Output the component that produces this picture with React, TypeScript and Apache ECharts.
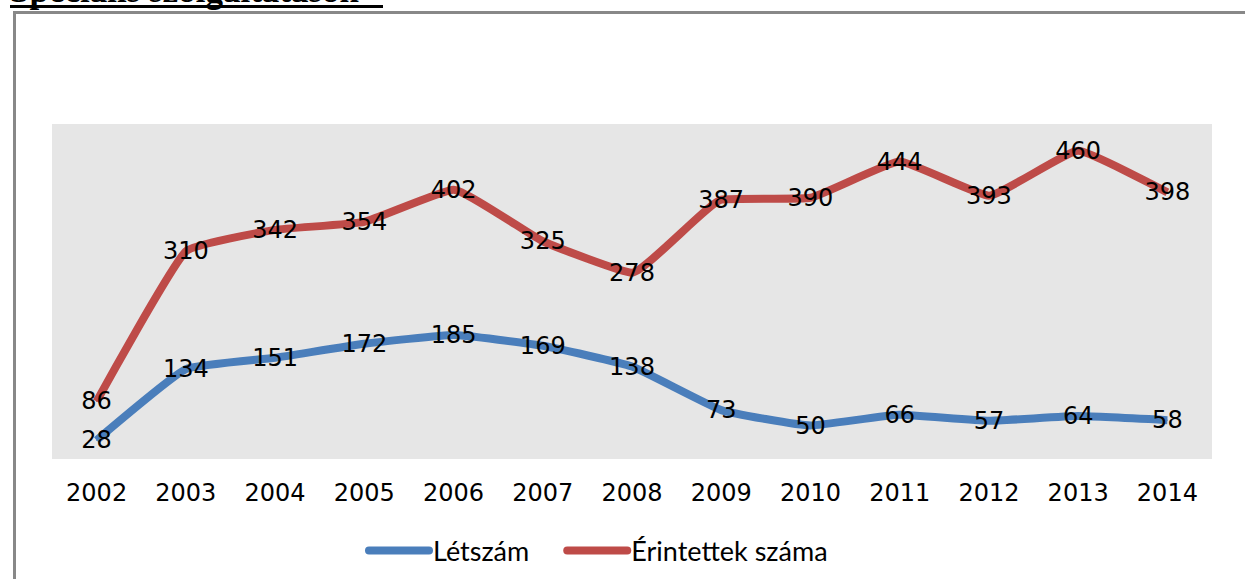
import React, { useEffect, useRef } from "react";
import * as echarts from "echarts";

const years = ["2002", "2003", "2004", "2005", "2006", "2007", "2008", "2009", "2010", "2011", "2012", "2013", "2014"];
const letszam = [28, 134, 151, 172, 185, 169, 138, 73, 50, 66, 57, 64, 58];
const erintettek = [86, 310, 342, 354, 402, 325, 278, 387, 390, 444, 393, 460, 398];
const seriesNames = ["Létszám", "Érintettek száma"];
const titleText = "Speciális szolgáltatáson";

export default function App() {
  const ref = useRef<HTMLDivElement>(null);
  useEffect(() => {
    document.body.style.margin = "0";
    const chart = echarts.init(ref.current!, null, { renderer: "svg" });
    const label = {
      show: true,
      position: "inside" as const,
      color: "#000",
      fontFamily: "DejaVu Sans",
      fontSize: 24,
    };
    chart.setOption({
      animation: false,
      backgroundColor: "#fff",
      graphic: [
        { type: "rect", shape: { x: 13, y: 11, width: 1240, height: 3 }, style: { fill: "#888" } },
        { type: "rect", shape: { x: 13, y: 11, width: 3, height: 580 }, style: { fill: "#888" } },
        {
          type: "text",
          x: 10,
          y: 8,
          style: {
            text: titleText,
            font: "bold 35px 'Liberation Serif'",
            fill: "#000",
            textVerticalAlign: "bottom",
          },
        },
        { type: "rect", shape: { x: 10, y: 5, width: 373, height: 3 }, style: { fill: "#000" } },
      ],
      grid: {
        left: 52,
        right: 33,
        top: 124,
        bottom: 120,
        show: true,
        backgroundColor: "#e6e6e6",
        borderWidth: 0,
      },
      legend: {
        left: 360,
        top: 532,
        itemWidth: 68,
        itemHeight: 9,
        itemGap: 34,
        icon: "path://M4,0 H64 A4,4 0 0 1 64,8 H4 A4,4 0 0 1 4,0 Z",
        textStyle: { fontFamily: "Lato", fontSize: 27, color: "#000", padding: [0, 0, 0, -5] },
        data: seriesNames,
      },
      xAxis: {
        type: "category",
        data: years,
        boundaryGap: true,
        axisLine: { show: false },
        axisTick: { show: false },
        axisLabel: { color: "#000", fontFamily: "DejaVu Sans", fontSize: 24, margin: 22 },
      },
      yAxis: {
        type: "value",
        min: 0,
        max: 500,
        show: false,
        splitLine: { show: false },
      },
      series: [
        {
          name: seriesNames[0],
          type: "line",
          data: letszam,
          smooth: 0.12,
          symbol: "circle",
          symbolSize: 1,
          itemStyle: { color: "#4a7ebb" },
          lineStyle: { color: "#4a7ebb", width: 8 },
          label,
        },
        {
          name: seriesNames[1],
          type: "line",
          data: erintettek,
          smooth: 0.12,
          symbol: "circle",
          symbolSize: 1,
          itemStyle: { color: "#be4b48" },
          lineStyle: { color: "#be4b48", width: 8 },
          label,
        },
      ],
    });
    return () => chart.dispose();
  }, []);
  return <div ref={ref} style={{ width: 1245, height: 579 }} />;
}
